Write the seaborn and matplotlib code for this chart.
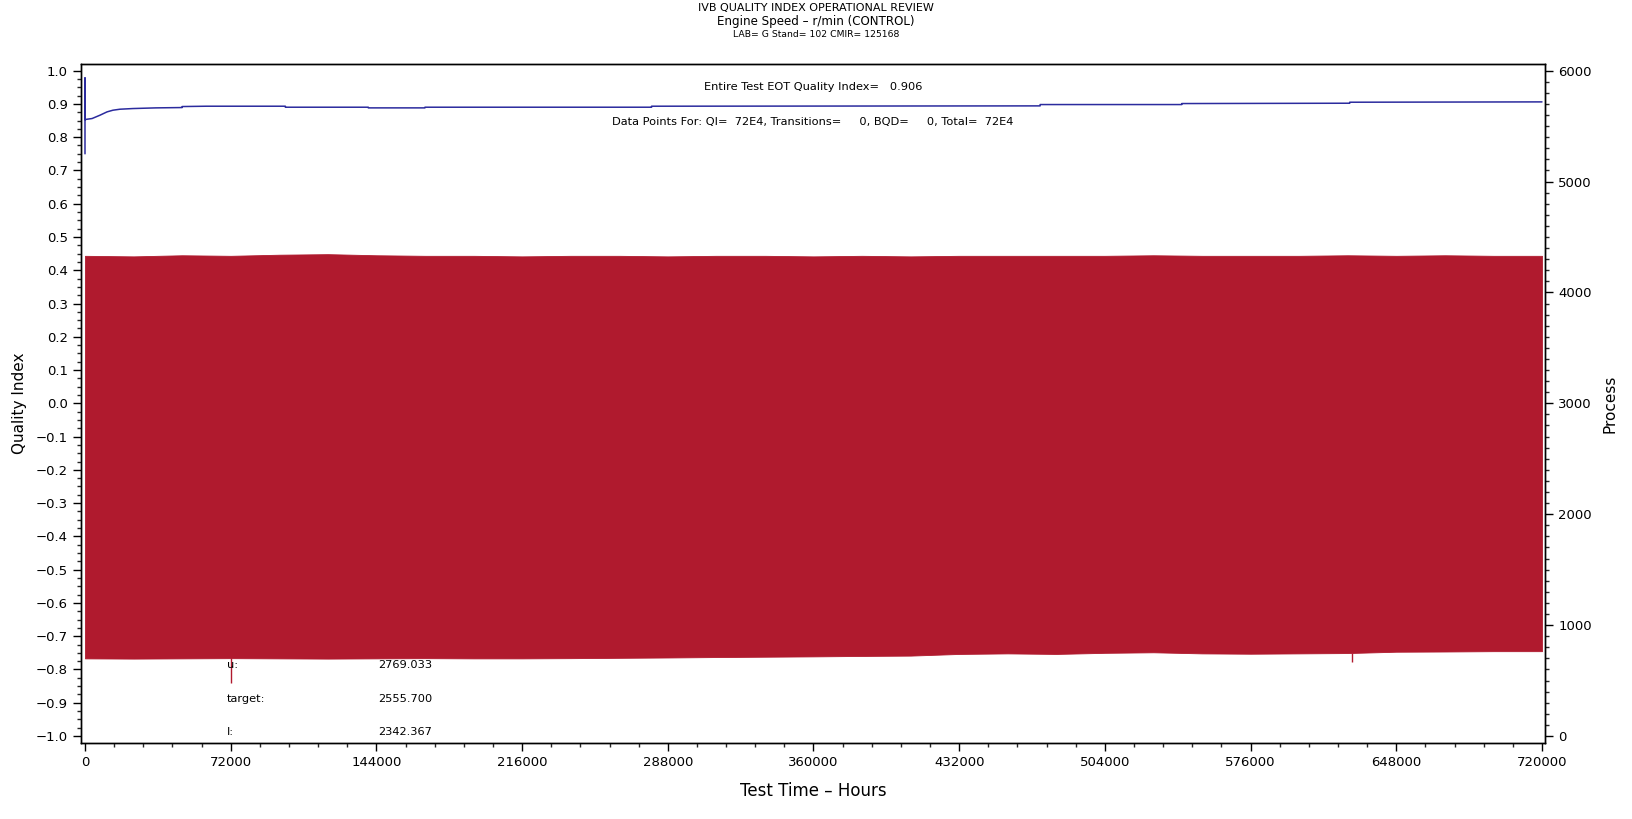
import numpy as np
import pandas as pd
import matplotlib
matplotlib.use('Agg')
import matplotlib.pyplot as plt
import matplotlib.ticker as mticker
import seaborn as sns

# --- Data ---

# Quality index running value (left axis)
qi_time = [0, 0, 0, 3500, 7400, 10900, 13800, 17300, 23700, 35000, 48000, 48000, 60000,
           99000, 99000, 140000, 140000, 168000, 168000, 280000, 280000, 472000, 472000,
           542000, 542000, 625000, 625000, 720000]
qi_value = [0.750, 0.978, 0.853, 0.856, 0.866, 0.876, 0.881, 0.884, 0.886, 0.888, 0.889, 0.892, 0.893,
            0.893, 0.890, 0.890, 0.888, 0.888, 0.890, 0.890, 0.893, 0.894, 0.898,
            0.898, 0.901, 0.902, 0.905, 0.906]

# Process signal envelope (right axis): dense oscillation between these bounds
env_time = [0, 24000, 48000, 72000, 96000, 120000, 144000, 168000, 192000, 216000, 240000,
            264000, 288000, 312000, 336000, 360000, 384000, 408000, 432000, 456000, 480000,
            504000, 528000, 552000, 576000, 600000, 624000, 648000, 672000, 696000, 720000]
env_high = [4330, 4325, 4335, 4330, 4340, 4345, 4335, 4330, 4330, 4325, 4330,
            4330, 4325, 4330, 4330, 4325, 4330, 4325, 4330, 4330, 4330,
            4330, 4335, 4330, 4330, 4330, 4335, 4330, 4335, 4330, 4330]
env_low = [700, 698, 700, 702, 700, 698, 700, 702, 700, 700, 702,
           705, 708, 712, 715, 718, 722, 725, 740, 745, 740,
           750, 755, 745, 742, 745, 748, 760, 762, 765, 765]

# Isolated downward excursions of the process signal
spike_time = [72000, 626000]
spike_low = [480, 665]

# Control limits shown as text
limit_names = ['u:', 'target:', 'l:']
limit_values = [2769.033, 2555.700, 2342.367]

qi_df = pd.DataFrame({'time': qi_time, 'qi': qi_value})

# --- Plotting ---
sns.set_theme(style='ticks')
plt.rcParams['font.family'] = ['DejaVu Sans']
plt.rcParams['text.color'] = 'black'
plt.rcParams['axes.labelcolor'] = 'black'

fig = plt.figure(figsize=(16.32, 8.19), dpi=100)
ax = fig.add_axes([0.0496, 0.0928, 0.8971, 0.8291])
ax2 = ax.twinx()

red = '#b01a2e'
blue = '#2b2b9e'

ax2.fill_between(env_time, env_low, env_high, color=red, linewidth=0.6, edgecolor=red)
ax2.vlines(spike_time, spike_low, [env_low[3], env_low[26]], color=red, linewidth=1)

sns.lineplot(data=qi_df, x='time', y='qi', ax=ax, estimator=None, sort=False,
             color=blue, linewidth=1.1)

ax.set_zorder(ax2.get_zorder() + 1)
ax.patch.set_visible(False)

# Axis limits and ticks
ax.set_xlim(-2000, 721500)
ax.set_ylim(-1.021, 1.020)
ax2.set_ylim(-63, 6060)

ax.xaxis.set_major_locator(mticker.MultipleLocator(72000))
ax.xaxis.set_minor_locator(mticker.MultipleLocator(14400))
ax.yaxis.set_major_locator(mticker.MultipleLocator(0.1))
ax.yaxis.set_minor_locator(mticker.MultipleLocator(0.025))
ax.yaxis.set_major_formatter(mticker.FuncFormatter(lambda v, p: f'{v:.1f}'.replace('-', '\u2212')))
ax2.yaxis.set_major_locator(mticker.MultipleLocator(1000))
ax2.yaxis.set_minor_locator(mticker.MultipleLocator(100))

for a in (ax, ax2):
    a.tick_params(which='major', direction='out', length=6, width=1, labelsize=9.5, colors='black')
    a.tick_params(which='minor', direction='out', length=3, width=1)
    for s in a.spines.values():
        s.set_visible(True)
        s.set_color('black')
        s.set_linewidth(1)

ax.set_xlabel('Test Time \u2013 Hours', fontsize=12, labelpad=9)
ax.set_ylabel('Quality Index', fontsize=11, labelpad=6)
ax2.set_ylabel('Process', fontsize=11, labelpad=8)

# Titles
fig.text(0.5, 1 - 8.5 / 819, 'IVB QUALITY INDEX OPERATIONAL REVIEW', ha='center', va='center', fontsize=8)
fig.text(0.5, 1 - 22 / 819, 'Engine Speed \u2013 r/min (CONTROL)', ha='center', va='center', fontsize=8.6)
fig.text(0.5, 1 - 34.5 / 819, 'LAB= G Stand= 102 CMIR= 125168', ha='center', va='center', fontsize=6.7)

# Annotations inside the plot
ax.text(0.5, 0.950, 'Entire Test EOT Quality Index=   0.906', transform=ax.get_yaxis_transform(),
        ha='center', va='center', fontsize=8.2)
ax.text(0.5, 0.847, 'Data Points For: QI=  72E4, Transitions=     0, BQD=     0, Total=  72E4',
        transform=ax.get_yaxis_transform(), ha='center', va='center', fontsize=8.2)

for name, val, y in zip(limit_names, limit_values, [-0.787, -0.888, -0.988]):
    ax.text(70200, y, name, ha='left', va='center', fontsize=8.2)
    ax.text(144800, y, f'{val:.3f}', ha='left', va='center', fontsize=8.2)

fig.savefig('out.png', dpi=100)
